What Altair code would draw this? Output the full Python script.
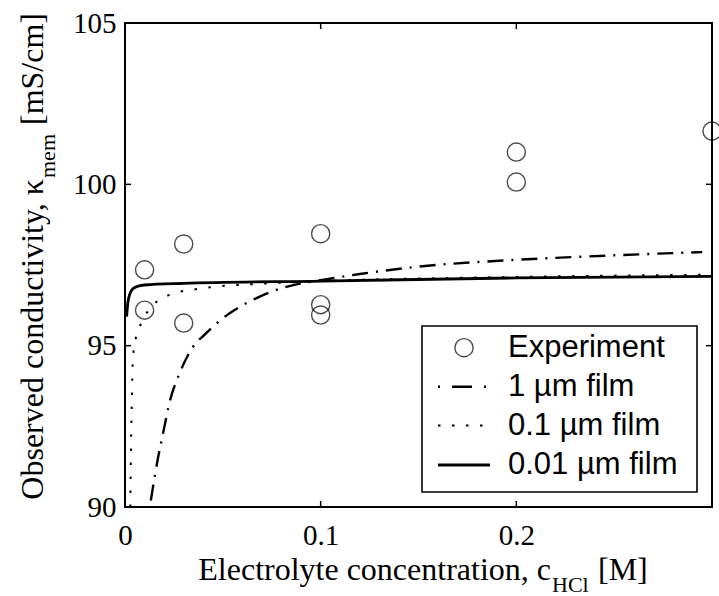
import altair as alt
import pandas as pd

# Measured membrane conductivity [mS/cm] vs. HCl concentration [M]
exp_conc = [0.01, 0.01, 0.03, 0.03, 0.1, 0.1, 0.1, 0.2, 0.2, 0.3]
exp_kappa = [97.35, 96.1, 98.15, 95.7, 98.47, 96.27, 95.95, 101.0, 100.07, 101.65]

# Model predictions for three film thicknesses
film1_conc = [0.0132, 0.0165, 0.0195, 0.023, 0.0276, 0.0346, 0.041, 0.05, 0.06, 0.07,
              0.08, 0.09, 0.1, 0.12, 0.15, 0.2, 0.25, 0.295]
film1_kappa = [90.2, 91.4, 92.3, 93.3, 94.1, 94.95, 95.36, 95.85, 96.25, 96.55,
               96.78, 96.93, 97.03, 97.22, 97.45, 97.66, 97.8, 97.9]

film01_conc = [0.0027, 0.0029, 0.0031, 0.0034, 0.0037, 0.0042, 0.0048, 0.006, 0.0085,
               0.0115, 0.017, 0.0235, 0.04, 0.07, 0.1, 0.2, 0.3]
film01_kappa = [90.0, 91.0, 92.0, 93.0, 94.0, 94.7, 95.0, 95.35, 95.72,
                96.05, 96.4, 96.59, 96.78, 96.92, 97.0, 97.13, 97.2]

film001_conc = [0.0008, 0.0015, 0.0025, 0.0035, 0.006, 0.01, 0.03, 0.1, 0.2, 0.3]
film001_kappa = [95.9, 96.35, 96.6, 96.73, 96.83, 96.88, 96.93, 97.0, 97.1, 97.15]

x_ticks = [0, 0.1, 0.2]
x_minor = [0.1, 0.2]
y_ticks = [90, 95, 100, 105]
y_minor = [95, 100]

legend_labels = ["Experiment", "1 \u00b5m film", "0.1 \u00b5m film", "0.01 \u00b5m film"]

W, H = 587, 484
SERIF = "Liberation Serif"
SANS = "Liberation Sans"

xscale = alt.Scale(domain=[0, 0.3], nice=False, zero=False)
yscale = alt.Scale(domain=[90, 105], nice=False, zero=False)

xaxis = alt.Axis(values=x_ticks, format="~g", title=None, grid=False, domain=False,
                 ticks=False, labelFlush=False, labelOverlap=False, labelPadding=14)
yaxis = alt.Axis(values=y_ticks, format="d", title=None, grid=False, domain=False,
                 ticks=False, labelFlush=False, labelOverlap=False, labelPadding=9)

xenc = alt.X("c:Q", scale=xscale, axis=xaxis)
yenc = alt.Y("k:Q", scale=yscale, axis=yaxis)


def curve(conc, kappa, width, dash=None):
    df = pd.DataFrame({"c": conc, "k": kappa})
    opts = dict(color="black", strokeWidth=width, clip=True, interpolate="monotone",
                strokeCap="butt")
    if dash is not None:
        opts["strokeDash"] = dash
    return alt.Chart(df).mark_line(**opts).encode(x=xenc, y=yenc)


points = alt.Chart(pd.DataFrame({"c": exp_conc, "k": exp_kappa})).mark_point(
    shape="circle", filled=False, size=330, color="black", strokeWidth=1.4
).encode(x=xenc, y=yenc)

line_1 = curve(film1_conc, film1_kappa, 2.4, [16, 8, 2, 8])
line_01 = curve(film01_conc, film01_kappa, 2.0, [2.5, 11.5])
line_001 = curve(film001_conc, film001_kappa, 2.8)

# Inward tick marks on all four sides
xt = pd.DataFrame({"c": x_minor})
yt = pd.DataFrame({"k": y_minor})
tick_style = dict(color="black", strokeWidth=1.5)
ticks = [
    alt.Chart(xt).mark_rule(**tick_style).encode(x=xenc, y=alt.value(0), y2=alt.value(6)),
    alt.Chart(xt).mark_rule(**tick_style).encode(x=xenc, y=alt.value(H), y2=alt.value(H - 6)),
    alt.Chart(yt).mark_rule(**tick_style).encode(y=yenc, x=alt.value(0), x2=alt.value(6)),
    alt.Chart(yt).mark_rule(**tick_style).encode(y=yenc, x=alt.value(W), x2=alt.value(W - 6)),
]

one = pd.DataFrame({"a": [0]})

# Legend box
LX0, LX1, LY0, LY1 = 297, 572, 303, 469
row_y = [324.7, 363.7, 402.5, 442.0]
SX0, SX1, TX = 313, 365, 383

legend = [
    alt.Chart(one).mark_rect(fill="white", stroke="black", strokeWidth=1.6).encode(
        x=alt.value(LX0), x2=alt.value(LX1), y=alt.value(LY0), y2=alt.value(LY1)),
    alt.Chart(one).mark_point(shape="circle", filled=False, size=330, color="black",
                              strokeWidth=1.4).encode(
        x=alt.value((SX0 + SX1) / 2), y=alt.value(row_y[0])),
    alt.Chart(one).mark_rule(color="black", strokeWidth=2.4, strokeDash=[2, 12, 20, 12],
                             strokeCap="butt").encode(
        x=alt.value(SX0), x2=alt.value(SX1), y=alt.value(row_y[1])),
    alt.Chart(one).mark_rule(color="black", strokeWidth=2.0, strokeDash=[2.5, 11.5],
                             strokeCap="butt").encode(
        x=alt.value(SX0), x2=alt.value(SX1), y=alt.value(row_y[2])),
    alt.Chart(one).mark_rule(color="black", strokeWidth=2.8, strokeCap="butt").encode(
        x=alt.value(SX0), x2=alt.value(SX1), y=alt.value(row_y[3])),
]
leg_text = pd.DataFrame({"label": legend_labels, "ry": row_y})
legend.append(
    alt.Chart(leg_text).mark_text(font=SANS, fontSize=31, align="left", baseline="middle",
                                  color="black").encode(
        x=alt.value(TX), y=alt.Y("ry:Q", scale=None), text="label:N")
)


def label(text, x, y, size, align, angle=0):
    return alt.Chart(pd.DataFrame({"t": [text]})).mark_text(
        font=SERIF, fontSize=size, align=align, baseline="alphabetic", angle=angle,
        color="black"
    ).encode(x=alt.value(x), y=alt.value(y), text="t:N")


# Axis titles with subscripts
TS, SS = 32, 22
X1, XB = 426, 557
xt_parts = [
    label("Electrolyte concentration, c", X1, XB, TS, "right"),
    label("HCl", X1 + 1, XB + 12, SS, "left"),
    label("[M]", X1 + 47, XB, TS, "left"),
]
Y1, YB = 156, -82
yt_parts = [
    label("Observed conductivity, \u03ba", YB, Y1, TS, "right", 270),
    label("mem", YB + 12, Y1 - 1, SS, "left", 270),
    label("[mS/cm]", YB, Y1 - 54, TS, "left", 270),
]

chart = alt.layer(
    line_1, line_01, line_001, points, *ticks, *legend, *xt_parts, *yt_parts
).properties(
    width=W, height=H,
    padding={"left": 125, "top": 23, "right": 7, "bottom": 89},
    autosize=alt.AutoSizeParams(type="none"),
).configure_view(
    stroke="black", strokeWidth=2
).configure_axis(
    labelFont=SERIF, labelFontSize=29, labelColor="black"
)

chart.save("out.html", embed_options={"renderer": "svg", "actions": False})
